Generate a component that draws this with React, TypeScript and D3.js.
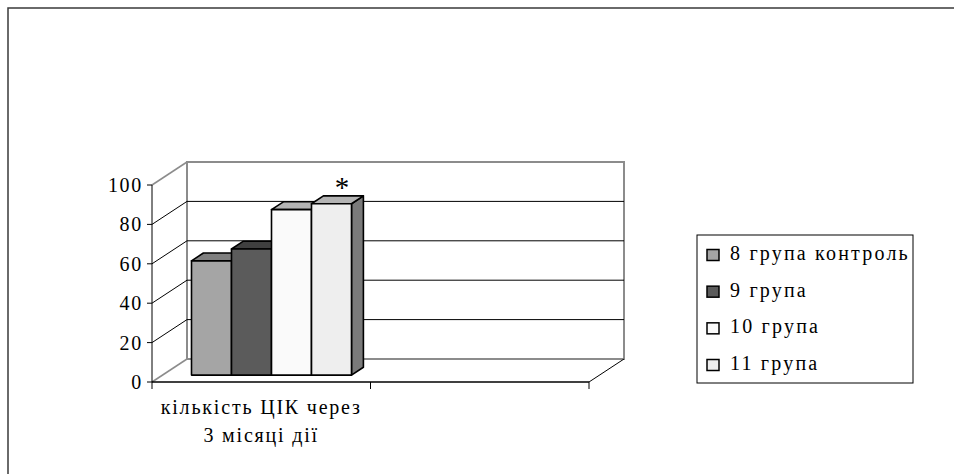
import React from "react";
import * as d3 from "d3";

// Chart data
const categories = ["кількість ЦІК через 3 місяці дії", ""];
const categoryLines = [["кількість ЦІК через", "3 місяці дії"], []];
const seriesNames = ["8 група контроль", "9 група", "10 група", "11 група"];
const seriesValues = [58, 64, 84, 87];
const yTicks = [0, 20, 40, 60, 80, 100];
const markedSeries = 3; // series carrying the significance star

// Face colours per series: front, top, side
const frontColors = ["#a5a5a5", "#5b5b5b", "#fafafa", "#eeeeee"];
const topColors = ["#7f7f7f", "#3f3f3f", "#b4b4b4", "#b4b4b4"];
const sideColors = ["#7a7a7a", "#3a3a3a", "#9a9a9a", "#7a7a7a"];

const W = 954;
const H = 474;
const FONT = "Liberation Serif";
const labelStyle: React.CSSProperties = { fontFamily: FONT, fontSize: 20, letterSpacing: 1.8 };
const legendStyle: React.CSSProperties = { fontFamily: FONT, fontSize: 20, letterSpacing: 2.2 };
const tickStyle: React.CSSProperties = { fontFamily: FONT, fontSize: 20, letterSpacing: 1.7 };

// 3D box geometry
const plotLeft = 152;
const plotRight = 589;
const floorY = 382;
const topY = 185;
const depthX = 35;
const depthY = 23;
const barZ0 = 0.3;
const barZ1 = 0.64;

const y = d3.scaleLinear().domain([0, 100]).range([floorY, topY]);
const x = d3.scaleBand<string>().domain(categories).range([plotLeft, plotRight]).padding(0);
const xs = d3
  .scaleBand<string>()
  .domain(seriesNames)
  .range([29, x.bandwidth() - 29.5])
  .padding(0);

// projection of (front-plane x, front-plane y, depth z in [0,1])
const P = (px: number, py: number, z: number): [number, number] => [px + z * depthX, py - z * depthY];
const poly = (pts: [number, number][]) => pts.map((p) => p.join(",")).join(" ");

export default function App() {
  const cat = categories[0];
  const gridColor = "#000";
  const wallColor = "#8c8c8c";

  const bars = seriesValues.map((v, i) => {
    const x0 = (x(cat) ?? 0) + (xs(seriesNames[i]) ?? 0);
    const x1 = x0 + xs.bandwidth();
    const yb = y(0);
    const yt = y(v);
    const front: [number, number][] = [P(x0, yb, barZ0), P(x1, yb, barZ0), P(x1, yt, barZ0), P(x0, yt, barZ0)];
    const top: [number, number][] = [P(x0, yt, barZ0), P(x1, yt, barZ0), P(x1, yt, barZ1), P(x0, yt, barZ1)];
    const side: [number, number][] = [P(x1, yb, barZ0), P(x1, yb, barZ1), P(x1, yt, barZ1), P(x1, yt, barZ0)];
    return { i, v, front, top, side, cx: (P(x0, yt, barZ0)[0] + P(x1, yt, barZ1)[0]) / 2, ty: P(x0, yt, barZ1)[1] };
  });

  const legendX = 697;
  const legendY = 235;
  const rowY = d3.scalePoint<string>().domain(seriesNames).range([255, 365]);

  return (
    <svg width={W} height={H} style={{ position: "absolute", left: 0, top: 0, background: "#fff" }}>
      {/* outer frame */}
      <rect x={8} y={8} width={W + 20} height={H + 20} fill="#fff" stroke="#3a3a3a" strokeWidth={1.5} />

      {/* back wall */}
      <polygon
        points={poly([P(plotLeft, y(0), 1), P(plotRight, y(0), 1), P(plotRight, y(100), 1), P(plotLeft, y(100), 1)])}
        fill="#fff"
        stroke={wallColor}
        strokeWidth={2}
      />
      {/* gridlines on back wall and side wall */}
      {yTicks.map((t) => {
        const a = P(plotLeft, y(t), 0);
        const b = P(plotLeft, y(t), 1);
        const c = P(plotRight, y(t), 1);
        const inner = t !== 0 && t !== 100;
        return (
          <g key={t}>
            {inner && <line x1={b[0]} y1={b[1]} x2={c[0]} y2={c[1]} stroke={gridColor} strokeWidth={1} />}
            <line x1={a[0]} y1={a[1]} x2={b[0]} y2={b[1]} stroke={inner ? gridColor : wallColor} strokeWidth={inner ? 1 : 1.5} />
          </g>
        );
      })}
      {/* floor right edge */}
      {(() => {
        const a = P(plotRight, y(0), 0);
        const b = P(plotRight, y(0), 1);
        return <line x1={a[0]} y1={a[1]} x2={b[0]} y2={b[1]} stroke="#000" strokeWidth={1} />;
      })()}

      {/* bars */}
      {bars.map((b) => (
        <g key={b.i} stroke="#000" strokeWidth={1.6} strokeLinejoin="round">
          <polygon points={poly(b.side)} fill={sideColors[b.i]} />
          <polygon points={poly(b.top)} fill={topColors[b.i]} />
          <polygon points={poly(b.front)} fill={frontColors[b.i]} />
        </g>
      ))}
      {bars
        .filter((b) => b.i === markedSeries)
        .map((b) => (
          <text key="star" x={b.cx + 4.5} y={b.ty + 1} textAnchor="middle" style={{ fontFamily: FONT, fontSize: 29 }}>
            *
          </text>
        ))}

      {/* value axis */}
      <line x1={plotLeft} y1={y(0)} x2={plotLeft} y2={y(100)} stroke="#000" strokeWidth={1} />
      {yTicks.map((t) => (
        <g key={t}>
          <line x1={plotLeft - 5} y1={y(t)} x2={plotLeft} y2={y(t)} stroke="#000" strokeWidth={1} />
          <text x={plotLeft - 9} y={y(t) + 7} textAnchor="end" style={tickStyle}>
            {t}
          </text>
        </g>
      ))}

      {/* category axis */}
      <line x1={plotLeft} y1={y(0)} x2={plotRight} y2={y(0)} stroke="#000" strokeWidth={1.5} />
      {[...categories.map((c) => x(c) ?? 0), plotRight].map((px, i) => (
        <line key={i} x1={px} y1={y(0)} x2={px} y2={y(0) + 7} stroke="#000" strokeWidth={1} />
      ))}
      {categories.map((c, ci) =>
        categoryLines[ci].map((ln, li) => (
          <text key={c + li} x={(x(c) ?? 0) + x.bandwidth() / 2} y={414 + li * 28} textAnchor="middle" style={labelStyle}>
            {ln}
          </text>
        ))
      )}

      {/* legend */}
      <rect x={legendX} y={legendY} width={216} height={148} fill="#fff" stroke="#000" strokeWidth={1} />
      {seriesNames.map((s, i) => {
        const cy = rowY(s) ?? 0;
        return (
          <g key={s}>
            <rect x={707} y={cy - 5.5} width={12} height={11} fill={frontColors[i]} stroke="#000" strokeWidth={1.5} />
            <text x={730} y={cy + 5} style={legendStyle}>
              {s}
            </text>
          </g>
        );
      })}
    </svg>
  );
}
